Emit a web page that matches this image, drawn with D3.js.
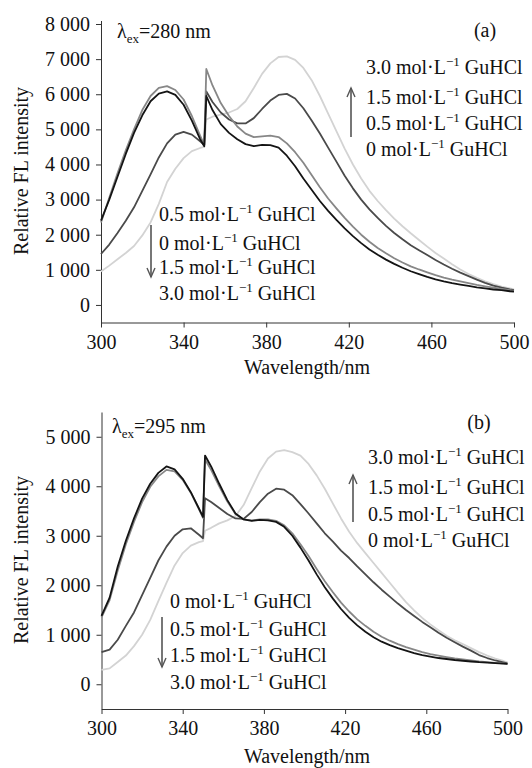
<!DOCTYPE html>
<html>
<head>
<meta charset="utf-8">
<script src="https://cdn.jsdelivr.net/npm/d3@7"></script>
<style>
  body { margin: 0; background: #fff; }
  svg text { font-family: "Liberation Serif", "Times New Roman", serif; fill: #111; }
</style>
</head>
<body>
<div id="chart"></div>
<script>
// wavelength grid (nm), shared by both panels
var wavelength = [300,304,308,312,316,320,324,328,332,336,340,344,348,350,351,354,358,362,366,370,374,378,382,386,390,394,398,402,406,410,414,418,422,426,430,434,438,442,446,450,454,458,462,466,470,474,478,482,486,490,494,498,500];

// (a) excitation 280 nm
var a0  = [2400,3000,3650,4300,4900,5400,5800,6020,6080,5980,5700,5250,4720,4520,5950,5550,5150,4900,4720,4580,4520,4560,4550,4480,4250,3950,3600,3280,2960,2680,2420,2180,1960,1760,1580,1430,1290,1170,1060,960,880,800,730,670,620,580,540,500,470,440,420,390,380];
var a05 = [2350,3050,3750,4400,5000,5550,5950,6180,6230,6120,5850,5380,4820,4560,6720,6250,5750,5380,5080,4880,4780,4800,4820,4780,4600,4350,4050,3700,3350,3030,2750,2480,2230,2000,1800,1620,1470,1330,1210,1100,1010,930,850,780,720,670,620,570,530,490,460,420,400];
var a15 = [1450,1720,2050,2400,2780,3250,3720,4200,4600,4850,4930,4850,4660,4560,6080,5780,5480,5280,5170,5170,5320,5580,5820,5980,6010,5880,5600,5250,4880,4480,4080,3680,3320,3000,2720,2480,2250,2050,1870,1700,1560,1420,1280,1150,1030,920,820,720,630,550,490,440,420];
var a30 = [950,1120,1300,1480,1680,1980,2350,2880,3500,3880,4180,4380,4470,4500,5280,5360,5420,5480,5580,5800,6180,6580,6880,7060,7080,6980,6750,6400,5950,5450,4950,4450,4000,3600,3250,2960,2700,2460,2240,2040,1850,1660,1480,1320,1160,1010,880,770,670,590,520,470,440];

// (b) excitation 295 nm
var b0  = [1380,1750,2380,2900,3350,3750,4050,4270,4400,4340,4150,3880,3550,3380,4620,4400,4050,3720,3450,3330,3300,3320,3310,3280,3180,3000,2760,2500,2220,1960,1730,1520,1340,1190,1060,950,860,790,730,680,630,590,560,530,510,490,475,460,445,435,425,415,410];
var b05 = [1350,1700,2300,2830,3280,3680,3990,4200,4330,4300,4130,3870,3540,3360,4540,4330,4000,3690,3440,3330,3310,3330,3330,3300,3210,3050,2830,2590,2330,2080,1860,1650,1470,1310,1180,1060,960,880,810,750,700,650,610,580,550,520,500,480,460,445,430,420,410];
var b15 = [650,700,900,1180,1450,1800,2150,2500,2780,3000,3130,3150,3020,2950,3760,3680,3560,3440,3350,3340,3480,3680,3850,3950,3930,3820,3640,3450,3250,3050,2880,2700,2550,2380,2220,2060,1910,1770,1630,1500,1380,1260,1150,1040,940,850,760,680,590,530,480,440,420];
var b30 = [290,320,450,580,770,1000,1300,1680,2050,2400,2650,2800,2870,2890,3100,3160,3250,3310,3400,3620,3960,4300,4560,4700,4730,4690,4620,4450,4220,3950,3650,3350,3080,2850,2650,2450,2250,2050,1850,1660,1490,1340,1210,1090,980,890,810,730,650,580,520,470,440];

var xTicks = [300,340,380,420,460,500];
var yTicksA = [0,1000,2000,3000,4000,5000,6000,7000,8000];
var yTicksB = [0,1000,2000,3000,4000,5000];

var legendUp = ["3.0","1.5","0.5","0"];
var legendDownA = ["0.5","0","1.5","3.0"];
var legendDownB = ["0","0.5","1.5","3.0"];

var colors = { c0: "#141414", c05: "#878787", c15: "#4a4a4a", c30: "#d3d3d3" };

var width = 532, height = 768;
var fmt = d3.formatLocale({ decimal: ".", thousands: " ", grouping: [3], currency: ["", ""] }).format(",d");

var svg = d3.select("#chart")
    .append("svg")
    .attr("width", width)
    .attr("height", height);

function legendLine(g, x, y, conc) {
    var t = g.append("text").attr("x", x).attr("y", y).style("font-size", "20px");
    t.append("tspan").text(conc + " mol\u00B7L");
    t.append("tspan").attr("dy", -8).style("font-size", "13px").text("\u22121");
    t.append("tspan").attr("dy", 8).text(" GuHCl");
}

function arrow(g, x, y1, y2) {
    // y1 = tail, y2 = tip
    var dir = y2 < y1 ? 1 : -1;
    g.append("line").attr("x1", x).attr("x2", x).attr("y1", y1).attr("y2", y2)
        .attr("stroke", "#555").attr("stroke-width", 1.6);
    g.append("path")
        .attr("d", "M" + (x - 4) + "," + (y2 + dir * 9) + "L" + x + "," + y2 + "L" + (x + 4) + "," + (y2 + dir * 9))
        .attr("fill", "none").attr("stroke", "#555").attr("stroke-width", 1.4);
}

function drawPanel(p) {
    var g = svg.append("g");

    var x = d3.scaleLinear().domain([300, 500]).range(p.xRange);
    var y = d3.scaleLinear().domain(p.yDomain).range(p.yRange);

    // X axis
    var xAxis = g.append("g")
        .attr("transform", "translate(0," + p.yRange[0] + ")")
        .call(d3.axisBottom(x).tickValues(xTicks).tickSize(5).tickSizeOuter(0).tickPadding(7));
    // Y axis
    var yAxis = g.append("g")
        .attr("transform", "translate(" + p.xRange[0] + ",0)")
        .call(d3.axisLeft(y).tickValues(p.yTicks).tickFormat(fmt).tickSize(5).tickSizeOuter(0).tickPadding(6));

    [xAxis, yAxis].forEach(function (a) {
        a.selectAll("path, line").attr("stroke", "#333");
        a.selectAll("text").style("font-size", "20px").style("font-family", "Liberation Serif, serif").attr("fill", "#111");
    });

    // lines
    var line = d3.line()
        .x(function (d, i) { return x(wavelength[i]); })
        .y(function (d) { return y(d); });

    p.series.forEach(function (s) {
        g.append("path")
            .datum(s.values)
            .attr("d", line)
            .attr("fill", "none")
            .attr("stroke", s.color)
            .attr("stroke-width", 1.8)
            .attr("stroke-linejoin", "round");
    });

    // lambda label
    var lt = g.append("text").attr("x", p.lambda[0]).attr("y", p.lambda[1]).style("font-size", "20px");
    lt.append("tspan").text("\u03BB");
    lt.append("tspan").attr("dy", 5).style("font-size", "13px").text("ex");
    lt.append("tspan").attr("dy", -5).text("=" + p.ex + " nm");

    // panel tag
    g.append("text").attr("x", p.tag[0]).attr("y", p.tag[1])
        .attr("text-anchor", "middle").style("font-size", "20px").text(p.tagText);

    // legends
    p.upText.forEach(function (c, i) { legendLine(g, p.upX, p.upY[i], c); });
    p.downText.forEach(function (c, i) { legendLine(g, p.downX, p.downY[i], c); });
    arrow(g, p.upArrow[0], p.upArrow[1], p.upArrow[2]);
    arrow(g, p.downArrow[0], p.downArrow[1], p.downArrow[2]);

    // axis titles
    g.append("text")
        .attr("transform", "translate(28," + p.yTitleY + ") rotate(-90)")
        .attr("text-anchor", "middle")
        .style("font-size", "20px")
        .text("Relative FL intensity");
    g.append("text")
        .attr("x", 307).attr("y", p.xTitleY)
        .attr("text-anchor", "middle")
        .style("font-size", "20px")
        .text("Wavelength/nm");
}

drawPanel({
    xRange: [101, 514], yRange: [322.5, 20.5], yDomain: [-500, 8100], yTicks: yTicksA,
    series: [
        { values: a30, color: colors.c30 },
        { values: a15, color: colors.c15 },
        { values: a05, color: colors.c05 },
        { values: a0, color: colors.c0 }
    ],
    lambda: [117, 38], ex: 280, tag: [485, 37], tagText: "(a)",
    upText: legendUp, upX: 366, upY: [74, 104, 130, 156], upArrow: [351, 137, 88],
    downText: legendDownA, downX: 159, downY: [221, 250, 274, 300], downArrow: [151, 225, 277],
    yTitleY: 171, xTitleY: 374
});

drawPanel({
    xRange: [101.5, 507.5], yRange: [709, 412], yDomain: [-500, 5500], yTicks: yTicksB,
    series: [
        { values: b30, color: colors.c30 },
        { values: b15, color: colors.c15 },
        { values: b05, color: colors.c05 },
        { values: b0, color: colors.c0 }
    ],
    lambda: [112, 433], ex: 295, tag: [479, 429], tagText: "(b)",
    upText: legendUp, upX: 368, upY: [464, 494, 521, 547], upArrow: [353, 522, 475],
    downText: legendDownB, downX: 170, downY: [608, 636, 662, 689], downArrow: [162, 617, 667],
    yTitleY: 560, xTitleY: 763
});
</script>
</body>
</html>
